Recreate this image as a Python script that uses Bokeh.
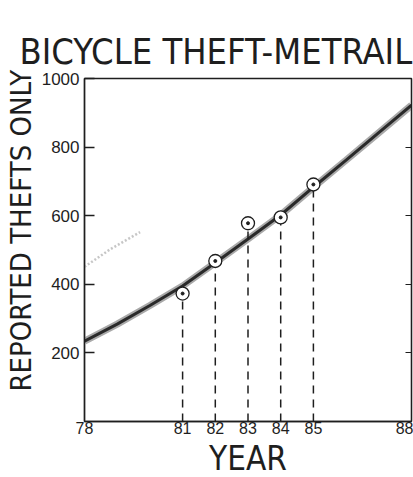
import math
from bokeh.plotting import figure
from bokeh.models import FixedTicker, LinearAxis, Title, ColumnDataSource
from bokeh.embed import file_html
from bokeh.resources import INLINE

# ---- data ----
years_obs = [81, 82, 83, 84, 85]
thefts_obs = [373, 468, 578, 595, 691]

curve_years = [78, 79, 80, 81, 82, 83, 84, 85, 86, 87, 88]
curve_vals = [234, 284, 338, 395, 463, 532, 602, 683, 762, 842, 922]

faint_years = [78.0, 78.8, 79.7]
faint_vals = [451, 503, 552]

x_ticks = [78, 81, 82, 83, 84, 85, 88]
y_ticks = [200, 400, 600, 800, 1000]
right_ticks = [200, 400, 600, 800]

TITLE = "BICYCLE THEFT-METRAIL"
YLABEL = "REPORTED  THEFTS ONLY"
XLABEL = "YEAR"

NARROW = "DejaVu Sans Condensed"
INK = "#1e1e1e"

p = figure(width=413, height=477, x_range=(78, 88), y_range=(0, 1000),
           output_backend="svg", toolbar_location=None,
           min_border_left=83, min_border_right=2, min_border_top=78,
           min_border_bottom=53)
p.background_fill_color = "white"
p.border_fill_color = "white"
p.outline_line_color = INK
p.outline_line_width = 1.3
p.xgrid.visible = False
p.ygrid.visible = False

# title
p.title.text = TITLE
p.title.text_font = NARROW
p.title.text_font_size = "36px"
p.title.text_font_style = "normal"
p.title.text_color = INK
p.title.align = "left"
p.title.offset = -65
p.title.standoff = 14

# left axis
ya = p.yaxis[0]
ya.ticker = FixedTicker(ticks=y_ticks)
ya.major_tick_in = 10
ya.major_tick_out = 0
ya.minor_tick_line_color = None
ya.axis_line_color = INK
ya.axis_line_width = 1.5
ya.major_tick_line_color = INK
ya.major_tick_line_width = 1.5
ya.major_label_text_font = "Liberation Sans"
ya.major_label_text_font_size = "17px"
ya.major_label_text_color = INK
ya.major_label_standoff = 5

# bottom axis
xa = p.xaxis[0]
xa.ticker = FixedTicker(ticks=x_ticks)
xa.major_tick_in = 0
xa.major_tick_out = 0
xa.minor_tick_line_color = None
xa.axis_line_color = INK
xa.axis_line_width = 1.5
xa.major_label_text_font = "Liberation Sans"
xa.major_label_text_font_size = "16px"
xa.major_label_text_color = INK
xa.major_label_standoff = 0

# right axis with inward ticks only
ra = LinearAxis(ticker=FixedTicker(ticks=right_ticks))
ra.major_tick_in = 6
ra.major_tick_out = 0
ra.minor_tick_line_color = None
ra.axis_line_color = INK
ra.axis_line_width = 1.3
ra.major_tick_line_color = INK
ra.major_label_overrides = {t: "" for t in right_ticks}
ra.major_label_standoff = 0
p.add_layout(ra, "right")

# axis titles as side-panel titles
p.add_layout(Title(text=YLABEL, text_font=NARROW, text_font_size="29px",
                   text_font_style="normal", text_color=INK, align="left",
                   offset=30, standoff=2), "left")
p.add_layout(Title(text=XLABEL, text_font=NARROW, text_font_size="33px",
                   text_font_style="normal", text_color=INK, align="center",
                   standoff=0), "below")

# faint scan artefact arc
p.line(faint_years, faint_vals, line_color="#b8b8b8", line_width=2.5,
       line_dash="2 2", line_alpha=0.8)

# fitted curve (textured look: halo + core)
p.line(curve_years, curve_vals, line_color="#8c8c8c", line_width=7, line_alpha=0.75)
p.line(curve_years, curve_vals, line_color="#2a2a2a", line_width=3)

# dashed drop lines
src = ColumnDataSource(dict(x=years_obs, y=thefts_obs, y0=[0] * len(years_obs)))
p.segment(x0="x", y0="y0", x1="x", y1="y", source=src, line_color=INK,
          line_width=1.5, line_dash="8 6")

# observed points: open circle with centre dot
p.scatter("x", "y", source=src, marker="circle", size=13, fill_color="white",
          line_color=INK, line_width=1.3)
p.scatter("x", "y", source=src, marker="circle", size=3, fill_color=INK,
          line_color=INK)

open("out.html", "w").write(file_html(p, INLINE))
